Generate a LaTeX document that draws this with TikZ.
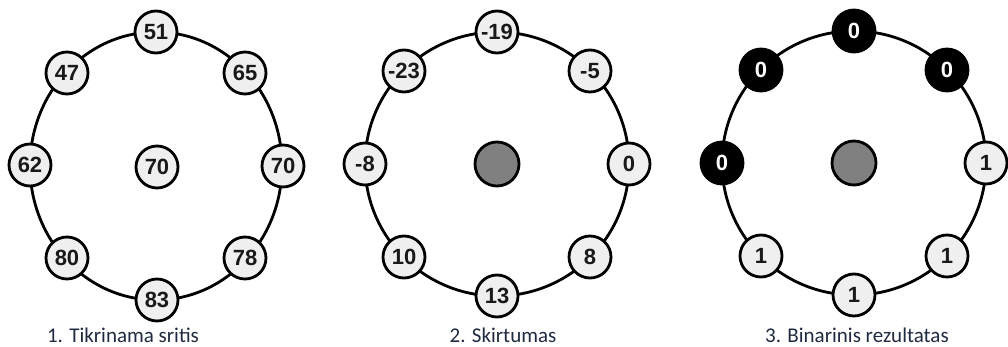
\documentclass[tikz,border=0pt]{standalone}
\usepackage{fontspec}
\setmainfont{Liberation Sans}
\newfontfamily\capfont{Carlito}
\definecolor{nodefill}{HTML}{EFEFEF}
\definecolor{midgray}{HTML}{808080}
\definecolor{captext}{HTML}{1F2A40}
\begin{document}
\begin{tikzpicture}[x=1pt,y=-1pt,
  ring/.style={line width=2.8pt},
  pt/.style={circle,draw,line width=2.8pt,fill=nodefill,minimum size=42pt,inner sep=0pt,
    font=\fontsize{22}{22}\selectfont\bfseries,text=black!90},
  zero/.style={pt,fill=black,text=white},
  mid/.style={circle,draw,line width=2.8pt,fill=midgray,minimum size=44pt,inner sep=0pt},
  captxt/.style={font=\capfont\fontsize{21}{21}\selectfont,text=captext,anchor=base}]
\useasboundingbox (0,0) rectangle (1008,347);
% ---------- panel 1
\coordinate (o1) at (156,166);
\draw[ring] (o1) ellipse [x radius=126pt, y radius=134pt];
\node[pt] (a1) at (156,32) {51};
\node[pt] (a2) at (245,73) {65};
\node[pt] (a3) at (283,166) {70};
\node[pt] (a4) at (245,258) {78};
\node[pt] (a5) at (157,300) {83};
\node[pt] (a6) at (67,258) {80};
\node[pt] (a7) at (30,165) {62};
\node[pt] (a8) at (67,73) {47};
\node[pt] (ac) at (157,167) {70};
\node[captxt] (la) at (123,342) {1. Tikrinama sritis};
% ---------- panel 2
\coordinate (o2) at (497,164);
\draw[ring] (o2) circle [radius=132pt];
\node[pt] (b1) at (497,32) {-19};
\node[pt] (b2) at (590,71) {-5};
\node[pt] (b3) at (629,164) {0};
\node[pt] (b4) at (590,257) {8};
\node[pt] (b5) at (497,296) {13};
\node[pt] (b6) at (404,257) {10};
\node[pt] (b7) at (365,164) {-8};
\node[pt] (b8) at (404,71) {-23};
\node[mid] (bc) at (497,164) {};
\node[captxt] (lb) at (503,342) {2. Skirtumas};
% ---------- panel 3
\coordinate (o3) at (854,163);
\draw[ring] (o3) circle [radius=132pt];
\node[zero] (c1) at (854,31) {0};
\node[zero] (c2) at (947,70) {0};
\node[pt] (c3) at (986,163) {1};
\node[pt] (c4) at (947,256) {1};
\node[pt] (c5) at (854,295) {1};
\node[pt] (c6) at (761,256) {1};
\node[zero] (c7) at (722,163) {0};
\node[zero] (c8) at (761,70) {0};
\node[mid] (cc) at (854,163) {};
\node[captxt] (lc) at (857,342) {3. Binarinis rezultatas};
\end{tikzpicture}
\end{document}
